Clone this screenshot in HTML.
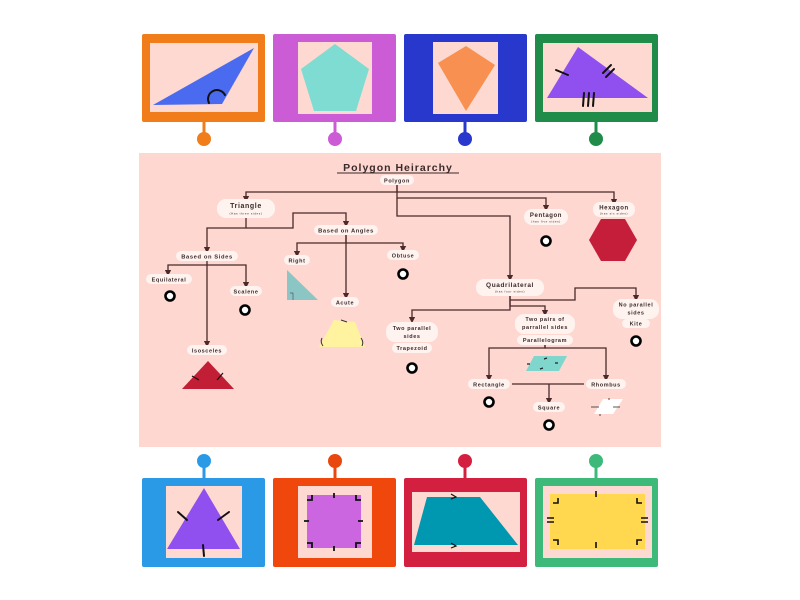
<!DOCTYPE html>
<html><head><meta charset="utf-8"><style>
html,body{margin:0;padding:0;background:#fff;width:800px;height:600px;overflow:hidden}
svg{display:block}
text{font-family:"Liberation Sans",sans-serif;font-weight:bold;fill:#3a2a2a;letter-spacing:0.6px}
.l{font-size:6.5px}
.s{font-size:3px;font-weight:normal}
.c{stroke:#4a2a2a;stroke-width:1.3;fill:none}
.r{fill:#fff;stroke:#000;stroke-width:2.6}
.p{fill:#fff3ef}
.t{stroke:#111;stroke-width:2;fill:none;stroke-linecap:round}
</style></head><body>
<svg width="800" height="600" viewBox="0 0 800 600" xmlns="http://www.w3.org/2000/svg">
<defs><marker id="a" markerWidth="5" markerHeight="5" refX="2.5" refY="2.5" orient="auto"><path d="M0,0 L5,2.5 L0,5z" fill="#4a2a2a"/></marker></defs>

<!-- top cards -->
<g>
<line x1="204" y1="120" x2="204" y2="139" stroke="#f07c1a" stroke-width="3"/><circle cx="204" cy="139" r="7" fill="#f07c1a"/>
<rect x="142" y="34" width="123" height="88" rx="2" fill="#f07c1a"/>
<rect x="150" y="43" width="108" height="69" fill="#fdd9d1"/>
<polygon points="153,105 254,48 222,104" fill="#4a6af0"/>
<path d="M209,103 A7,7 0 0 1 225,95" class="t" stroke-width="1.5"/>

<line x1="335" y1="120" x2="335" y2="139" stroke="#cc5cd6" stroke-width="3"/><circle cx="335" cy="139" r="7" fill="#cc5cd6"/>
<rect x="273" y="34" width="123" height="88" rx="2" fill="#cc5cd6"/>
<rect x="298" y="42" width="74" height="72" fill="#fdd9d1"/>
<polygon points="335,44 369,69 356,111 314,111 301,69" fill="#7edcd3"/>

<line x1="465" y1="120" x2="465" y2="139" stroke="#2838cc" stroke-width="3"/><circle cx="465" cy="139" r="7" fill="#2838cc"/>
<rect x="404" y="34" width="123" height="88" rx="2" fill="#2838cc"/>
<rect x="433" y="42" width="65" height="72" fill="#fdd9d1"/>
<polygon points="466,46 495,65 466,111 438,63" fill="#f79050"/>

<line x1="596" y1="120" x2="596" y2="139" stroke="#1f8c4a" stroke-width="3"/><circle cx="596" cy="139" r="7" fill="#1f8c4a"/>
<rect x="535" y="34" width="123" height="88" rx="2" fill="#1f8c4a"/>
<rect x="543" y="43" width="109" height="69" fill="#fdd9d1"/>
<polygon points="547,98 578,47 648,98" fill="#9050f0"/>
<path d="M556,70 L568,75 M603,73 L611,65 M606,77 L614,69 M584,93 L583,106 M589,93 L588,106 M594,93 L593,106" class="t"/>
</g>

<!-- panel -->
<rect x="139" y="153" width="522" height="294" fill="#fdd7d0"/>
<text x="398" y="171" text-anchor="middle" style="font-size:10.5px;letter-spacing:1px">Polygon Heirarchy</text>
<line x1="337" y1="173" x2="459" y2="173" stroke="#3a2a2a" stroke-width="1"/>

<!-- connectors -->
<g class="c">
<path d="M397,185 V192 H246 V199" marker-end="url(#a)"/>
<path d="M397,192 H614 V202" marker-end="url(#a)"/>
<path d="M397,185 V198 H546 V208" marker-end="url(#a)"/>
<path d="M397,198 V216 H510 V278" marker-end="url(#a)"/>
<path d="M246,217 V228 H207 V250" marker-end="url(#a)"/>
<path d="M246,228 H293 V213 H346 V224" marker-end="url(#a)"/>
<path d="M346,235 V243 H297 V254" marker-end="url(#a)"/>
<path d="M346,235 V296" marker-end="url(#a)"/>
<path d="M346,243 H403 V249" marker-end="url(#a)"/>
<path d="M207,261 V344" marker-end="url(#a)"/>
<path d="M207,265 H168 V273" marker-end="url(#a)"/>
<path d="M207,265 H246 V285" marker-end="url(#a)"/>
<path d="M510,296 V310 H412 V320" marker-end="url(#a)"/>
<path d="M510,296 V306 H545 V313" marker-end="url(#a)"/>
<path d="M510,300 H575 V288 H636 V298" marker-end="url(#a)"/>
<path d="M545,344 V348 H489 V378" marker-end="url(#a)"/>
<path d="M545,344 V348 H606 V378" marker-end="url(#a)"/>
<path d="M512,384 H584"/>
<path d="M549,384 V401" marker-end="url(#a)"/>
</g>

<!-- labels -->
<g>
<rect x="380" y="175" width="34" height="10" rx="5" class="p"/><text x="397" y="182.5" text-anchor="middle" class="l" style="font-size:5.5px">Polygon</text>
<rect x="217" y="199" width="58" height="19" rx="9" class="p"/><text x="246" y="208" text-anchor="middle" class="l" style="font-size:7px">Triangle</text><text x="246" y="214.5" text-anchor="middle" class="s">(Has three sides)</text>
<rect x="314" y="225" width="64" height="10" rx="5" class="p"/><text x="346" y="232.5" text-anchor="middle" class="l" style="font-size:5.8px">Based on Angles</text>
<rect x="176" y="251" width="62" height="10" rx="5" class="p"/><text x="207" y="258.5" text-anchor="middle" class="l" style="font-size:5.8px">Based on Sides</text>
<rect x="146" y="274" width="46" height="10" rx="5" class="p"/><text x="169" y="281.5" text-anchor="middle" class="l" style="font-size:5.5px">Equilateral</text>
<rect x="230" y="286" width="32" height="10" rx="5" class="p"/><text x="246" y="293.5" text-anchor="middle" class="l" style="font-size:5.5px">Scalene</text>
<rect x="284" y="255" width="26" height="10" rx="5" class="p"/><text x="297" y="262.5" text-anchor="middle" class="l" style="font-size:5.5px">Right</text>
<rect x="387" y="250" width="32" height="10" rx="5" class="p"/><text x="403" y="257.5" text-anchor="middle" class="l" style="font-size:5.5px">Obtuse</text>
<rect x="331" y="297" width="28" height="10" rx="5" class="p"/><text x="345" y="304.5" text-anchor="middle" class="l" style="font-size:5.5px">Acute</text>
<rect x="187" y="345" width="40" height="10" rx="5" class="p"/><text x="207" y="352.5" text-anchor="middle" class="l" style="font-size:5.5px">Isosceles</text>
<rect x="524" y="209" width="44" height="16" rx="8" class="p"/><text x="546" y="217" text-anchor="middle" class="l" style="font-size:6px">Pentagon</text><text x="546" y="222.5" text-anchor="middle" class="s">(has five sides)</text>
<rect x="593" y="202" width="42" height="15" rx="7" class="p"/><text x="614" y="209.5" text-anchor="middle" class="l" style="font-size:6px">Hexagon</text><text x="614" y="214.5" text-anchor="middle" class="s">(has six sides)</text>
<rect x="476" y="279" width="68" height="17" rx="8" class="p"/><text x="510" y="287" text-anchor="middle" class="l" style="font-size:6.5px">Quadrilateral</text><text x="510" y="292.5" text-anchor="middle" class="s">(has four sides)</text>
<rect x="386" y="322" width="52" height="20" rx="9" class="p"/><text x="412" y="330" text-anchor="middle" class="l" style="font-size:5.5px">Two parallel</text><text x="412" y="338" text-anchor="middle" class="l" style="font-size:5.5px">sides</text>
<rect x="392" y="343" width="40" height="10" rx="5" class="p"/><text x="412" y="350" text-anchor="middle" class="l" style="font-size:5.5px">Trapezoid</text>
<rect x="515" y="314" width="60" height="20" rx="9" class="p"/><text x="545" y="321" text-anchor="middle" class="l" style="font-size:5.5px">Two pairs of</text><text x="545" y="329" text-anchor="middle" class="l" style="font-size:5.5px">parrallel sides</text>
<rect x="517" y="335" width="56" height="10" rx="5" class="p"/><text x="545" y="342" text-anchor="middle" class="l" style="font-size:5.5px">Parallelogram</text>
<rect x="613" y="299" width="46" height="20" rx="9" class="p"/><text x="636" y="306.5" text-anchor="middle" class="l" style="font-size:5.5px">No parallel</text><text x="636" y="314.5" text-anchor="middle" class="l" style="font-size:5.5px">sides</text>
<rect x="622" y="319" width="28" height="9" rx="4.5" class="p"/><text x="636" y="325.5" text-anchor="middle" class="l" style="font-size:5.5px">Kite</text>
<rect x="468" y="379" width="42" height="10" rx="5" class="p"/><text x="489" y="386.5" text-anchor="middle" class="l" style="font-size:5.5px">Rectangle</text>
<rect x="586" y="379" width="40" height="10" rx="5" class="p"/><text x="606" y="386.5" text-anchor="middle" class="l" style="font-size:5.5px">Rhombus</text>
<rect x="533" y="402" width="32" height="10" rx="5" class="p"/><text x="549" y="409.5" text-anchor="middle" class="l" style="font-size:5.5px">Square</text>
</g>

<!-- rings -->
<g>
<circle cx="170" cy="296" r="4.5" class="r"/><circle cx="245" cy="310" r="4.5" class="r"/>
<circle cx="546" cy="241" r="4.5" class="r"/><circle cx="403" cy="274" r="4.5" class="r"/>
<circle cx="412" cy="368" r="4.5" class="r"/><circle cx="636" cy="341" r="4.5" class="r"/>
<circle cx="489" cy="402" r="4.5" class="r"/><circle cx="549" cy="425" r="4.5" class="r"/>
</g>

<!-- panel shapes -->
<polygon points="287,270 287,300 318,300" fill="#8cc6c4"/>
<path d="M290,293 H293 V300" stroke="#557" stroke-width="0.7" fill="none"/>
<polygon points="319,347 334,320 355,322 365,347" fill="#fff3a0"/>
<path d="M322,338 Q320,342 323,346 M361,338 Q364,342 362,346 M341,320 L347,322" stroke="#333" stroke-width="1" fill="none"/>
<polygon points="182,389 208,361 234,389" fill="#c21e35"/>
<path d="M192,376 L199,380 M217,380 L223,373" stroke="#111" stroke-width="1.2"/>
<polygon points="589,240 601,219 625,219 637,240 625,261 601,261" fill="#c41e3a"/>
<polygon points="526,371 534,356 567,356 559,371" fill="#7fd6cc"/>
<path d="M544,359 l3,-1 M540,369 l3,-1 M527,364 l3,0 M555,363 l3,0" stroke="#222" stroke-width="1.2"/>
<polygon points="594,414 603,399 623,399 613,414" fill="#fff"/>
<path d="M591,407 H599 M613,407 H620 M609,398 v2 M600,414 v2" stroke="#222" stroke-width="0.8"/>

<!-- bottom cards -->
<g>
<circle cx="204" cy="461" r="7" fill="#2a9ae6"/><line x1="204" y1="461" x2="204" y2="480" stroke="#2a9ae6" stroke-width="3"/>
<rect x="142" y="478" width="123" height="89" rx="2" fill="#2a9ae6"/>
<rect x="166" y="486" width="76" height="72" fill="#fdd9d1"/>
<polygon points="167,549 204,488 240,549" fill="#9050f0"/>
<path d="M178,512 L187,520 M218,520 L229,512 M203,545 L204,556" class="t"/>

<circle cx="335" cy="461" r="7" fill="#e8480e"/><line x1="335" y1="461" x2="335" y2="480" stroke="#e8480e" stroke-width="3"/>
<rect x="273" y="478" width="123" height="89" rx="2" fill="#f0480c"/>
<rect x="298" y="486" width="74" height="72" fill="#fdd9d1"/>
<rect x="307" y="495" width="54" height="53" fill="#cc66e0"/>
<path d="M307,500 h5 v-5 M361,500 h-5 v-5 M307,543 h5 v5 M361,543 h-5 v5 M334,493 v5 M334,546 v5 M304,521 h5 M358,521 h5" stroke="#111" stroke-width="1.8" fill="none"/>

<circle cx="465" cy="461" r="7" fill="#d42040"/><line x1="465" y1="461" x2="465" y2="480" stroke="#d42040" stroke-width="3"/>
<rect x="404" y="478" width="123" height="89" rx="2" fill="#d42040"/>
<rect x="412" y="492" width="108" height="60" fill="#fdd9d1"/>
<polygon points="414,545 427,497 480,497 518,545" fill="#0097b0"/>
<path d="M451,494 l5,3 l-5,2 M451,543 l5,3 l-5,2" stroke="#111" stroke-width="1.2" fill="none"/>

<circle cx="596" cy="461" r="7" fill="#3dba7a"/><line x1="596" y1="461" x2="596" y2="480" stroke="#3dba7a" stroke-width="3"/>
<rect x="535" y="478" width="123" height="89" rx="2" fill="#3dba7a"/>
<rect x="543" y="486" width="109" height="72" fill="#fdd9d1"/>
<rect x="550" y="494" width="95" height="55" fill="#ffd84f"/>
<path d="M553,503 h5 v-5 M642,503 h-5 v-5 M553,540 h5 v5 M642,540 h-5 v5 M596,491 v6 M596,542 v6 M547,518 h7 M547,522 h7 M641,518 h7 M641,522 h7" stroke="#111" stroke-width="1.6" fill="none"/>
</g>
</svg>
</body></html>
